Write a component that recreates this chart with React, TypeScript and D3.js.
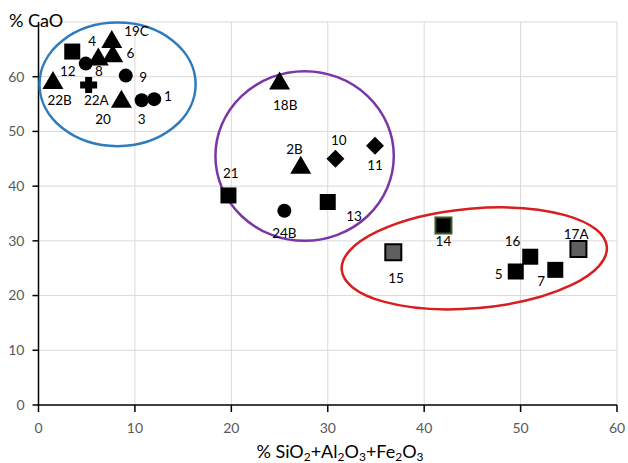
import React from "react";
import * as d3 from "d3";

// ---- data ----
const sampleIds = ["12", "8", "4", "19C", "6", "9", "22B", "22A", "20", "3", "1",
  "18B", "10", "11", "2B", "21", "13", "24B",
  "14", "15", "16", "5", "7", "17A"];
const xValues = [3.5, 4.9, 6.2, 7.6, 7.7, 9.05, 1.5, 5.2, 8.6, 10.7, 12.0,
  25.0, 30.8, 34.9, 27.2, 19.7, 30.0, 25.5,
  42.0, 36.8, 51.0, 49.5, 53.6, 56.0];
const yValues = [64.6, 62.4, 63.6, 66.8, 64.2, 60.2, 59.3, 58.5, 55.9, 55.7, 55.9,
  59.2, 45.0, 47.4, 43.8, 38.3, 37.1, 35.5,
  32.8, 27.9, 27.1, 24.4, 24.7, 28.5];
const markerTypes = ["square", "circle", "triangle", "triangle", "triangle", "circle", "triangle", "plus", "triangle", "circle", "circle",
  "triangle", "diamond", "diamond", "triangle", "square", "square", "circle",
  "square", "square", "square", "square", "square", "square"];
const xTicks = [0, 10, 20, 30, 40, 50, 60];
const yTicks = [0, 10, 20, 30, 40, 50, 60];
const yMax = 70;
// groups (ellipses) in data units: cx, cy, rx, ry
const groupCx = [8.2, 27.6, 45.2];
const groupCy = [58.6, 45.5, 26.8];
const groupRx = [8.1, 9.25, 13.8];
const groupRy = [11.3, 15.5, 9.1];

// ---- styles / layout ----
const markerFill: Record<string, string> = { "15": "#5f5f5f", "17A": "#5f5f5f" };
const markerStroke: Record<string, string> = { "15": "#000", "17A": "#000", "14": "#3b5a2a" };
const groupColors = ["#2e7bbf", "#7a35a6", "#d81e1e"];
const groupRotate = [0, 0, -5];
const labelOffset: Record<string, [number, number]> = {
  "12": [-4.4, 20], "8": [13.3, 7.7], "4": [-6, -15.6], "19C": [24.7, -8.3], "6": [17.7, 0],
  "9": [17.3, 1.7], "22B": [6.7, 20], "22A": [7.7, 15.7], "20": [-18.4, 19.7], "3": [0, 19.3],
  "1": [13.7, -3.3], "18B": [5.7, 23.7], "10": [3.3, -19], "11": [0, 20], "2B": [-6.2, -16.2],
  "21": [2.4, -21.7], "13": [26.3, 14], "24B": [0, 22.7], "14": [0, 16], "15": [2.7, 25.6],
  "16": [-17.6, -15], "5": [-17, 2.3], "7": [-14, 11.7], "17A": [-2.3, -14.3],
};

const W = 628, H = 463;
const FONT = "Lato, 'Open Sans', sans-serif";

function markerPath(type: string): string {
  if (type === "circle") return d3.symbol(d3.symbolCircle, Math.PI * 7 * 7)() as string;
  if (type === "square") return "M-8,-8H8V8H-8Z";
  if (type === "triangle") return "M0,-9.5L10.5,8.5H-10.5Z";
  if (type === "diamond") return "M0,-9L9,0L0,9L-9,0Z";
  // plus
  return "M-3.5,-8H3.5V-3.5H8.5V3.5H3.5V8H-3.5V3.5H-8.5V-3.5H-3.5Z";
}

export default function App() {
  const x = d3.scaleLinear().domain([0, 60]).range([38.5, 617]);
  const y = d3.scaleLinear().domain([0, yMax]).range([405, 22]);
  const pts = sampleIds.map((id, i) => ({ id, x: xValues[i], y: yValues[i], type: markerTypes[i] }));
  const sub = 12;

  return (
    <svg width={W} height={H} style={{ position: "absolute", left: 0, top: 0, background: "#fff" }}
      fontFamily={FONT}>
      <rect width={W} height={H} fill="#fff" />
      {/* gridlines */}
      {[...yTicks.filter(t => t > 0), yMax].map(t => (
        <line key={"gy" + t} x1={x(0)} x2={x(60)} y1={y(t)} y2={y(t)} stroke="#d9d9d9" strokeWidth={1} />
      ))}
      {xTicks.filter(t => t > 0).map(t => (
        <line key={"gx" + t} x1={x(t)} x2={x(t)} y1={y(0)} y2={y(yMax)} stroke="#d9d9d9" strokeWidth={1} />
      ))}
      {/* axes */}
      <line x1={x(0)} x2={x(0)} y1={y(0)} y2={y(yMax)} stroke="#000" strokeWidth={1.5} />
      <line x1={x(0)} x2={x(60)} y1={y(0)} y2={y(0)} stroke="#000" strokeWidth={1.5} />
      {yTicks.map(t => (
        <g key={"ty" + t}>
          <line x1={x(0) - 6} x2={x(0)} y1={y(t)} y2={y(t)} stroke="#000" strokeWidth={1.5} />
          <text x={x(0) - 14} y={y(t)} dy="0.35em" textAnchor="end" fontSize={14} fill="#595959">{t}</text>
        </g>
      ))}
      {xTicks.map(t => (
        <g key={"tx" + t}>
          <line x1={x(t)} x2={x(t)} y1={y(0)} y2={y(0) + 7} stroke="#000" strokeWidth={1.5} />
          <text x={x(t)} y={y(0) + 28} textAnchor="middle" fontSize={14} fill="#595959">{t}</text>
        </g>
      ))}
      {/* axis titles */}
      <text x={9} y={27} fontSize={18} fill="#000">% CaO</text>
      <text x={340} y={458} textAnchor="middle" fontSize={18} fill="#000">
        % SiO<tspan fontSize={sub} dy={3}>2</tspan><tspan dy={-3}>+Al</tspan>
        <tspan fontSize={sub} dy={3}>2</tspan><tspan dy={-3}>O</tspan>
        <tspan fontSize={sub} dy={3}>3</tspan><tspan dy={-3}>+Fe</tspan>
        <tspan fontSize={sub} dy={3}>2</tspan><tspan dy={-3}>O</tspan>
        <tspan fontSize={sub} dy={3}>3</tspan>
      </text>
      {/* group ellipses */}
      {groupCx.map((cx, i) => {
        const px = x(cx), py = y(groupCy[i]);
        const rx = x(groupRx[i]) - x(0), ry = y(0) - y(groupRy[i]);
        return (
          <ellipse key={"e" + i} cx={px} cy={py} rx={rx} ry={ry} fill="none"
            stroke={groupColors[i]} strokeWidth={2.5}
            transform={`rotate(${groupRotate[i]} ${px} ${py})`} />
        );
      })}
      {/* labels */}
      {pts.map(p => {
        const [dx, dy] = labelOffset[p.id] || [0, 18];
        return (
          <text key={"l" + p.id} x={x(p.x) + dx} y={y(p.y) + dy} dy="0.35em" textAnchor="middle"
            fontSize={13.5} fill="#000">{p.id}</text>
        );
      })}
      {/* markers */}
      {pts.map(p => (
        <path key={"m" + p.id} d={markerPath(p.type)} transform={`translate(${x(p.x)},${y(p.y)})`}
          fill={markerFill[p.id] || "#000"} stroke={markerStroke[p.id] || "none"}
          strokeWidth={markerStroke[p.id] ? 2 : 0} />
      ))}
    </svg>
  );
}
